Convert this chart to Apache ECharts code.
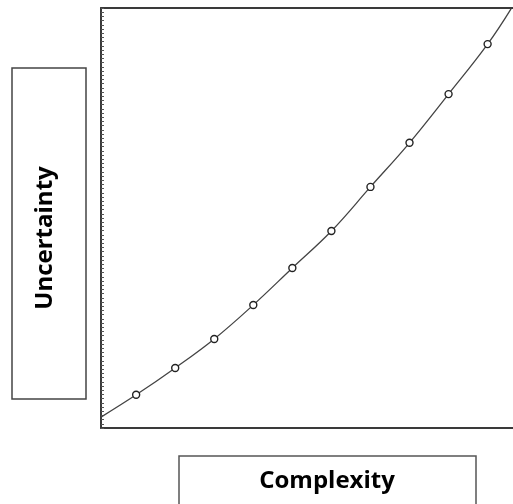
<!DOCTYPE HTML>
<html>
    <head>
        <meta charset="utf-8">
        <title>Complexity vs Uncertainty</title>
        <script src="https://cdn.jsdelivr.net/npm/echarts@6/dist/echarts.min.js"></script>
        <style>
            html, body { margin: 0; padding: 0; background: #fff; }
            #chart { width: 513px; height: 504px; }
        </style>
    </head>
    <body>
        <div id="chart"></div>
        <script>
        // complexity steps and the uncertainty (0-100 scale)
        var complexity = [1, 2, 3, 4, 5, 6, 7, 8, 9, 10];
        var uncertainty = [7.9, 14.3, 21.2, 29.3, 38.1, 46.9, 57.4, 67.9, 79.5, 91.4];
        // where the curve leaves the left axis and where it meets the top
        var curveStart = [0.1, 2.6];
        var curveEnd = [10.6, 99.8];

        var xLabel = 'Complexity';
        var yLabel = 'Uncertainty';

        var lineData = [{ value: curveStart, symbol: 'none' }];
        for (var i = 0; i < complexity.length; i++) {
            lineData.push([complexity[i], uncertainty[i]]);
        }
        lineData.push({ value: curveEnd, symbol: 'none' });

        var frame = { color: '#3a3a3a', width: 2 };
        var hidden = { show: false };

        var myChart = echarts.init(document.getElementById('chart'));
        var option = {
            animation: false,
            backgroundColor: '#fff',
            grid: { left: 101, right: 0, top: 8, bottom: 76 },
            xAxis: [
                {
                    type: 'value', min: 0.1, max: 10.65, position: 'bottom',
                    axisLine: { show: true, lineStyle: frame },
                    axisTick: hidden, axisLabel: hidden, splitLine: hidden
                },
                {
                    // top edge of the frame, no right edge in the original
                    type: 'value', min: 0.1, max: 10.65, position: 'top',
                    axisLine: { show: true, lineStyle: frame },
                    axisTick: hidden, axisLabel: hidden, splitLine: hidden
                }
            ],
            yAxis: {
                type: 'value', min: 0, max: 100, interval: 1,
                axisLine: { show: true, lineStyle: frame },
                axisTick: { show: true, inside: true, length: 3, lineStyle: { color: '#555', width: 1 } },
                axisLabel: hidden,
                splitLine: hidden
            },
            series: [{
                type: 'line',
                data: lineData,
                smooth: 0.4,
                symbol: 'circle',
                symbolSize: 7,
                lineStyle: { color: '#444', width: 1.3 },
                itemStyle: { color: '#fff', borderColor: '#222', borderWidth: 1.4 },
                clip: true
            }],
            graphic: [
                {
                    type: 'rect',
                    shape: { x: 12, y: 68, width: 74, height: 331 },
                    style: { fill: '#fff', stroke: '#444', lineWidth: 1.5 }
                },
                {
                    type: 'text',
                    x: 45, y: 238, rotation: Math.PI / 2,
                    style: {
                        text: yLabel, fill: '#000',
                        font: 'bold 24px "Open Sans", sans-serif',
                        align: 'center', verticalAlign: 'middle'
                    }
                },
                {
                    type: 'rect',
                    shape: { x: 179, y: 456, width: 297, height: 60 },
                    style: { fill: '#fff', stroke: '#555', lineWidth: 1.5 }
                },
                {
                    type: 'text',
                    x: 327, y: 481,
                    style: {
                        text: xLabel, fill: '#000',
                        font: 'bold 24px "Open Sans", sans-serif',
                        align: 'center', verticalAlign: 'middle'
                    }
                }
            ]
        };
        myChart.setOption(option);
        </script>
    </body>
</html>
